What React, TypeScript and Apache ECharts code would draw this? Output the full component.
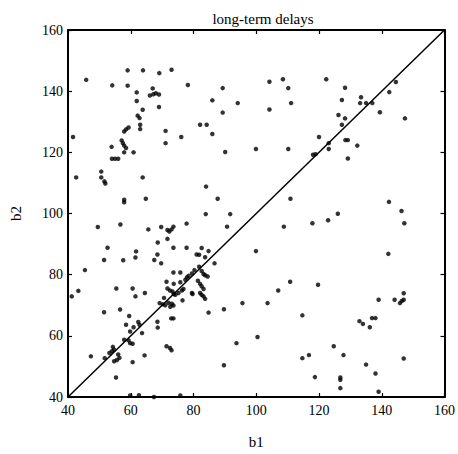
import React, { useEffect, useRef } from "react";
import * as echarts from "echarts";

const title = "long-term delays";
const xName = "b1";
const yName = "b2";
const axisMin = 40;
const axisMax = 160;
const axisStep = 20;

const b1Values = [
  45.8, 41.6, 54.1, 59.0, 59.0, 63.9, 61.9, 61.9, 63.8, 67.0, 66.1, 67.2, 68.0, 69.1, 69.0, 69.0, 73.0, 71.1, 71.1, 62.2, 62.8, 63.0, 63.0, 59.3, 58.5, 57.9, 57.1, 57.5, 57.9, 58.5, 53.9, 57.9, 60.9, 54.0, 55.0, 56.0,
  78.2, 89.3, 86.0, 94.1, 89.3, 82.1, 84.2, 86.0, 76.1, 90.1, 99.9, 104.2, 108.5, 110.2, 111.1, 104.2, 110.2,
  122.3, 128.3, 127.3, 133.4, 133.1, 135.0, 137.0, 144.5, 142.4, 139.4, 147.4, 126.2, 128.3, 127.3, 120.0, 123.1, 123.1, 128.4, 129.2, 132.2, 129.2, 118.1, 118.9,
  42.6, 50.6, 50.6, 51.6, 51.9, 63.8, 64.8, 57.9, 57.9, 49.5, 56.7, 65.6, 69.7, 71.7, 72.3, 73.0, 73.6, 71.7, 68.6, 73.6, 52.6, 61.7, 68.5, 61.5, 51.5, 57.6, 67.5, 69.7, 45.4, 73.6, 71.4, 43.3, 55.4, 60.6, 64.5, 71.7, 72.5, 73.3, 73.7,
  41.2, 61.5, 56.6, 51.5, 59.5, 58.5, 60.9, 62.4, 62.8, 59.8, 63.6, 57.9, 59.3, 59.8, 60.6, 54.3, 54.7, 54.0, 53.2, 51.7, 56.0, 56.4, 55.6, 54.7, 47.3, 60.6, 64.4, 55.3, 70.6, 69.2, 70.2, 71.0, 72.0, 72.6, 73.1, 73.6, 68.5, 68.6, 72.9, 73.6, 71.4, 72.5, 73.0, 59.8, 62.6, 67.4,
  84.0, 87.7, 83.9, 91.7, 90.7, 77.8, 77.8, 82.6, 81.0, 81.8, 83.7, 84.8, 86.7, 81.8, 82.6, 83.2, 83.7, 84.5, 80.3, 79.5, 78.4, 77.9, 77.4, 75.8, 75.8, 73.7, 81.4, 82.1, 82.6, 83.2, 76.8, 76.3, 75.2, 74.2, 79.5, 82.1, 82.6, 99.9, 108.8, 110.9, 110.8, 107.0,
  79.7, 83.2, 83.7, 76.5, 84.8, 89.7, 95.6, 103.6, 114.7, 93.7, 100.4, 89.7, 114.7, 75.8,
  116.8, 118.7, 124.7, 127.8, 126.8, 126.8, 126.8, 132.9, 134.0, 136.2, 136.9, 138.0, 139.0, 144.1, 145.8, 146.4, 147.0, 147.0, 135.0, 138.0, 139.0, 147.0,
  142.3, 146.3, 147.2, 126.0, 122.9, 117.9, 142.1, 119.7,
];

const b2Values = [
  143.7, 125.0, 141.9, 146.8, 141.8, 146.8, 139.6, 136.8, 133.9, 140.9, 138.6, 139.0, 139.3, 145.9, 138.9, 134.8, 147.0, 127.0, 123.0, 132.0, 131.2, 129.0, 127.6, 128.1, 127.5, 126.8, 123.9, 123.0, 122.2, 121.4, 121.8, 120.0, 120.0, 117.9, 117.9, 117.9,
  142.0, 141.0, 137.0, 136.1, 133.0, 129.0, 129.0, 126.0, 125.0, 120.1, 121.1, 143.1, 143.9, 141.0, 136.1, 134.0, 121.1,
  143.9, 141.1, 137.1, 138.0, 136.1, 136.1, 136.1, 143.0, 139.7, 133.1, 131.1, 132.2, 131.1, 129.0, 125.0, 123.0, 121.1, 124.0, 124.0, 122.2, 118.0, 119.2, 119.4,
  111.8, 113.7, 111.8, 110.5, 109.8, 111.8, 104.8, 104.5, 103.7, 95.6, 96.4, 94.8, 95.6, 94.6, 94.1, 94.8, 95.7, 91.7, 90.5, 88.8, 88.8, 87.6, 86.6, 85.6, 84.8, 84.7, 84.8, 83.7, 81.5, 80.7, 77.7, 74.7, 75.5, 75.5, 74.0, 75.5, 74.8, 74.5, 73.7,
  72.9, 72.9, 68.6, 67.7, 66.5, 63.6, 62.8, 64.5, 63.6, 61.4, 60.9, 58.7, 58.5, 57.6, 57.4, 56.4, 55.5, 55.0, 54.4, 52.7, 53.9, 52.8, 52.1, 51.7, 53.3, 51.4, 53.6, 46.4, 72.4, 70.7, 70.3, 70.0, 70.8, 69.5, 70.5, 69.9, 64.6, 62.7, 65.7, 65.7, 56.6, 56.0, 55.3, 40.5, 40.6, 40.0,
  108.8, 104.8, 99.8, 99.8, 95.7, 96.7, 88.8, 88.7, 86.6, 86.5, 85.7, 87.7, 83.7, 82.6, 81.2, 80.2, 79.8, 79.4, 81.5, 80.4, 79.6, 79.1, 78.3, 80.7, 77.5, 77.0, 78.0, 77.0, 76.2, 75.3, 75.3, 74.8, 74.0, 73.4, 74.0, 74.0, 73.4, 87.7, 95.7, 104.8, 77.7, 74.8,
  73.7, 72.9, 72.1, 71.6, 67.6, 68.7, 70.7, 70.7, 66.7, 57.6, 59.6, 50.4, 52.7, 40.5,
  53.7, 46.5, 56.6, 53.7, 46.4, 45.6, 42.9, 64.8, 63.9, 62.8, 65.8, 65.8, 71.8, 71.8, 70.7, 71.4, 71.8, 73.9, 50.6, 47.7, 41.7, 52.6,
  103.8, 100.8, 96.8, 99.9, 97.8, 96.8, 86.8, 76.7,
];

const diagonal = [
  [axisMin, axisMin],
  [axisMax, axisMax],
];

const FONT = "'Liberation Serif', 'DejaVu Serif', serif";

export default function App() {
  const ref = useRef<HTMLDivElement>(null);
  useEffect(() => {
    if (!ref.current) return;
    const chart = echarts.init(ref.current, null, { renderer: "svg" });
    const points = b1Values.map((x, i) => [x, b2Values[i]]);
    const baseAxis = {
      type: "value",
      min: axisMin,
      max: axisMax,
      interval: axisStep,
      splitLine: { show: false },
      axisLine: { show: true, lineStyle: { color: "#000", width: 2 } },
      axisTick: { show: true, inside: true, length: 4, lineStyle: { color: "#000", width: 1.2 } },
    };
    chart.setOption({
      animation: false,
      backgroundColor: "#fff",
      title: {
        text: title,
        left: 258,
        textAlign: "center",
        top: 6,
        textStyle: { fontFamily: FONT, fontSize: 15, fontWeight: "normal", color: "#000" },
      },
      grid: { left: 68, right: 11, top: 30, bottom: 51 },
      xAxis: [
        {
          ...baseAxis,
          position: "bottom",
          name: xName,
          nameLocation: "middle",
          nameGap: 37,
          nameTextStyle: { fontFamily: FONT, fontSize: 15, color: "#000" },
          axisLabel: { fontFamily: FONT, fontSize: 14, color: "#000", margin: 6 },
        },
        { ...baseAxis, position: "top", axisLabel: { show: false } },
      ],
      yAxis: [
        {
          ...baseAxis,
          position: "left",
          name: yName,
          nameLocation: "middle",
          nameGap: 45,
          nameTextStyle: { fontFamily: FONT, fontSize: 15, color: "#000" },
          axisLabel: { fontFamily: FONT, fontSize: 14, color: "#000", margin: 5 },
        },
        { ...baseAxis, position: "right", axisLabel: { show: false } },
      ],
      series: [
        {
          type: "line",
          data: diagonal,
          showSymbol: false,
          symbol: "none",
          lineStyle: { color: "#000", width: 1.5 },
          silent: true,
        },
        {
          type: "scatter",
          data: points,
          symbol: "circle",
          symbolSize: 4.5,
          itemStyle: { color: "#000" },
        },
      ],
    });
    return () => chart.dispose();
  }, []);
  return (
    <div
      ref={ref}
      style={{ position: "fixed", left: 0, top: 0, width: 458, height: 454 }}
    />
  );
}
